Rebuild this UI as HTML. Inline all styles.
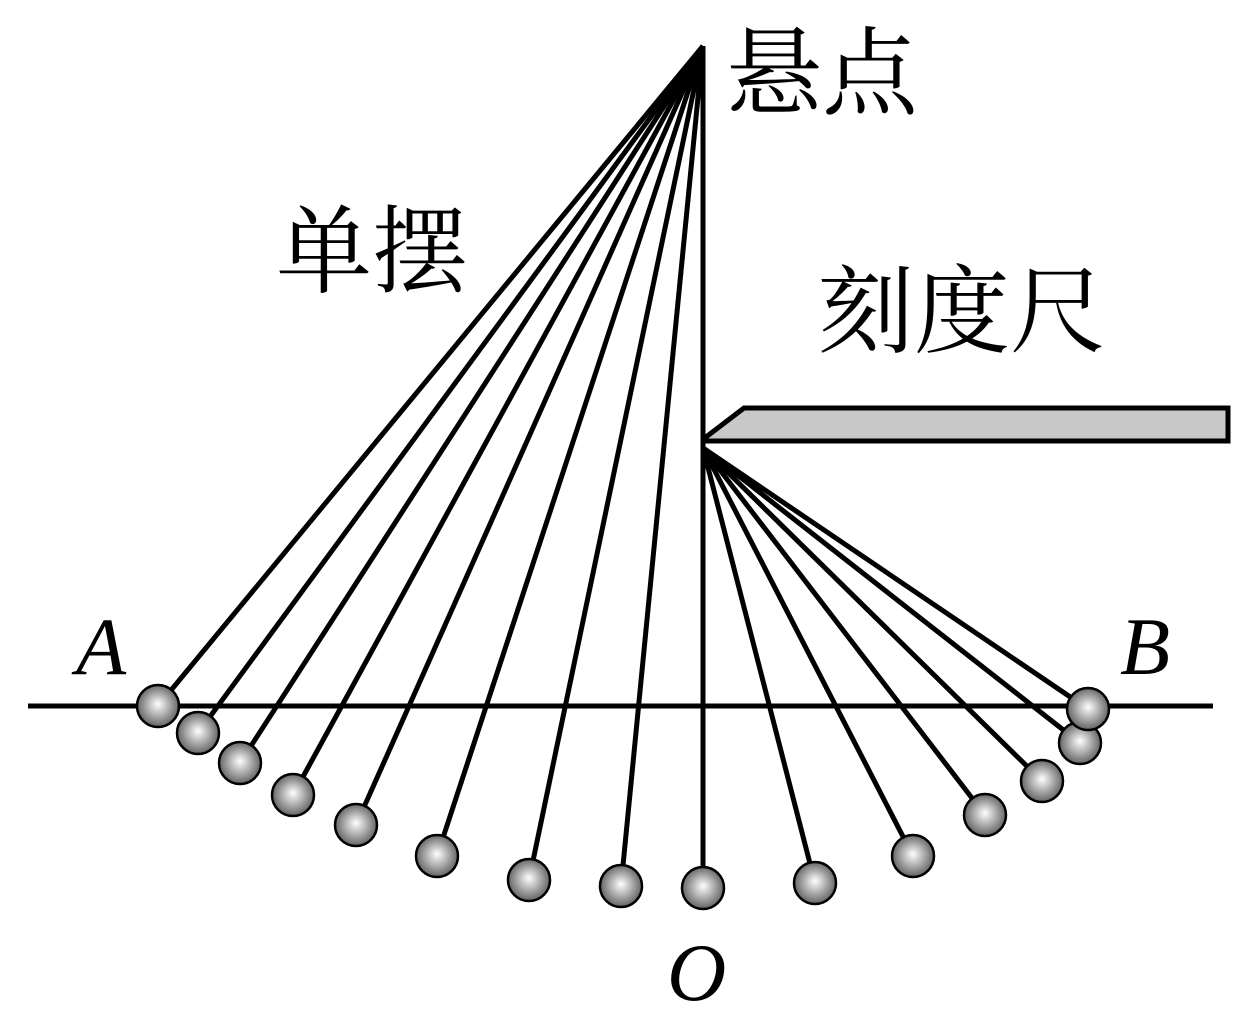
<!DOCTYPE html>
<html><head><meta charset="utf-8"><style>body{margin:0;background:#fff}svg{display:block}</style></head><body>
<svg width="1252" height="1032" viewBox="0 0 1252 1032" xmlns="http://www.w3.org/2000/svg">
<defs><radialGradient id="g" cx="0.5" cy="0.5" r="0.55" fx="0.5" fy="0.45"><stop offset="0" stop-color="#fff"/><stop offset="1" stop-color="#555"/></radialGradient></defs>
<line x1="28" y1="706" x2="1213" y2="706" stroke="#000" stroke-width="5"/>
<polygon points="706,437 744,408 1228,408 1228,441 706,441" fill="#c8c8c8" stroke="#000" stroke-width="5" stroke-linejoin="miter"/>
<g stroke="#000" stroke-width="5" fill="none">
<line x1="703" y1="46" x2="703" y2="888"/>
<line x1="703" y1="46" x2="158" y2="706"/>
<line x1="703" y1="46" x2="198" y2="733"/>
<line x1="703" y1="46" x2="240" y2="763"/>
<line x1="703" y1="46" x2="293" y2="795"/>
<line x1="703" y1="46" x2="356" y2="825"/>
<line x1="703" y1="46" x2="437" y2="856"/>
<line x1="703" y1="46" x2="529" y2="880"/>
<line x1="703" y1="46" x2="621" y2="886"/>
<line x1="703" y1="448" x2="815" y2="883"/>
<line x1="703" y1="448" x2="913" y2="856"/>
<line x1="703" y1="448" x2="985" y2="815"/>
<line x1="703" y1="448" x2="1042" y2="781"/>
<line x1="703" y1="448" x2="1080" y2="743"/>
<line x1="703" y1="448" x2="1088" y2="709"/>
</g>
<g fill="url(#g)" stroke="#000" stroke-width="2.5">
<circle cx="158" cy="706" r="21"/><circle cx="198" cy="733" r="21"/><circle cx="240" cy="763" r="21"/>
<circle cx="293" cy="795" r="21"/><circle cx="356" cy="825" r="21"/><circle cx="437" cy="856" r="21"/>
<circle cx="529" cy="880" r="21"/><circle cx="621" cy="886" r="21"/><circle cx="703" cy="888" r="21"/>
<circle cx="815" cy="883" r="21"/><circle cx="913" cy="856" r="21"/><circle cx="985" cy="815" r="21"/>
<circle cx="1042" cy="781" r="21"/><circle cx="1080" cy="743" r="21"/><circle cx="1088" cy="709" r="21"/>
</g>
<g font-family="'Noto Serif CJK SC','Noto Sans CJK SC',serif" font-size="96" fill="#000">
<text x="726" y="107">悬点</text>
<text x="276" y="285">单摆</text>
<text x="818" y="345">刻度尺</text>
</g>
<g font-family="'Liberation Serif',serif" font-style="italic" font-size="82" fill="#000">
<text x="76" y="674">A</text>
<text x="1120" y="674">B</text>
<text x="667" y="1000">O</text>
</g>
</svg>
</body></html>
